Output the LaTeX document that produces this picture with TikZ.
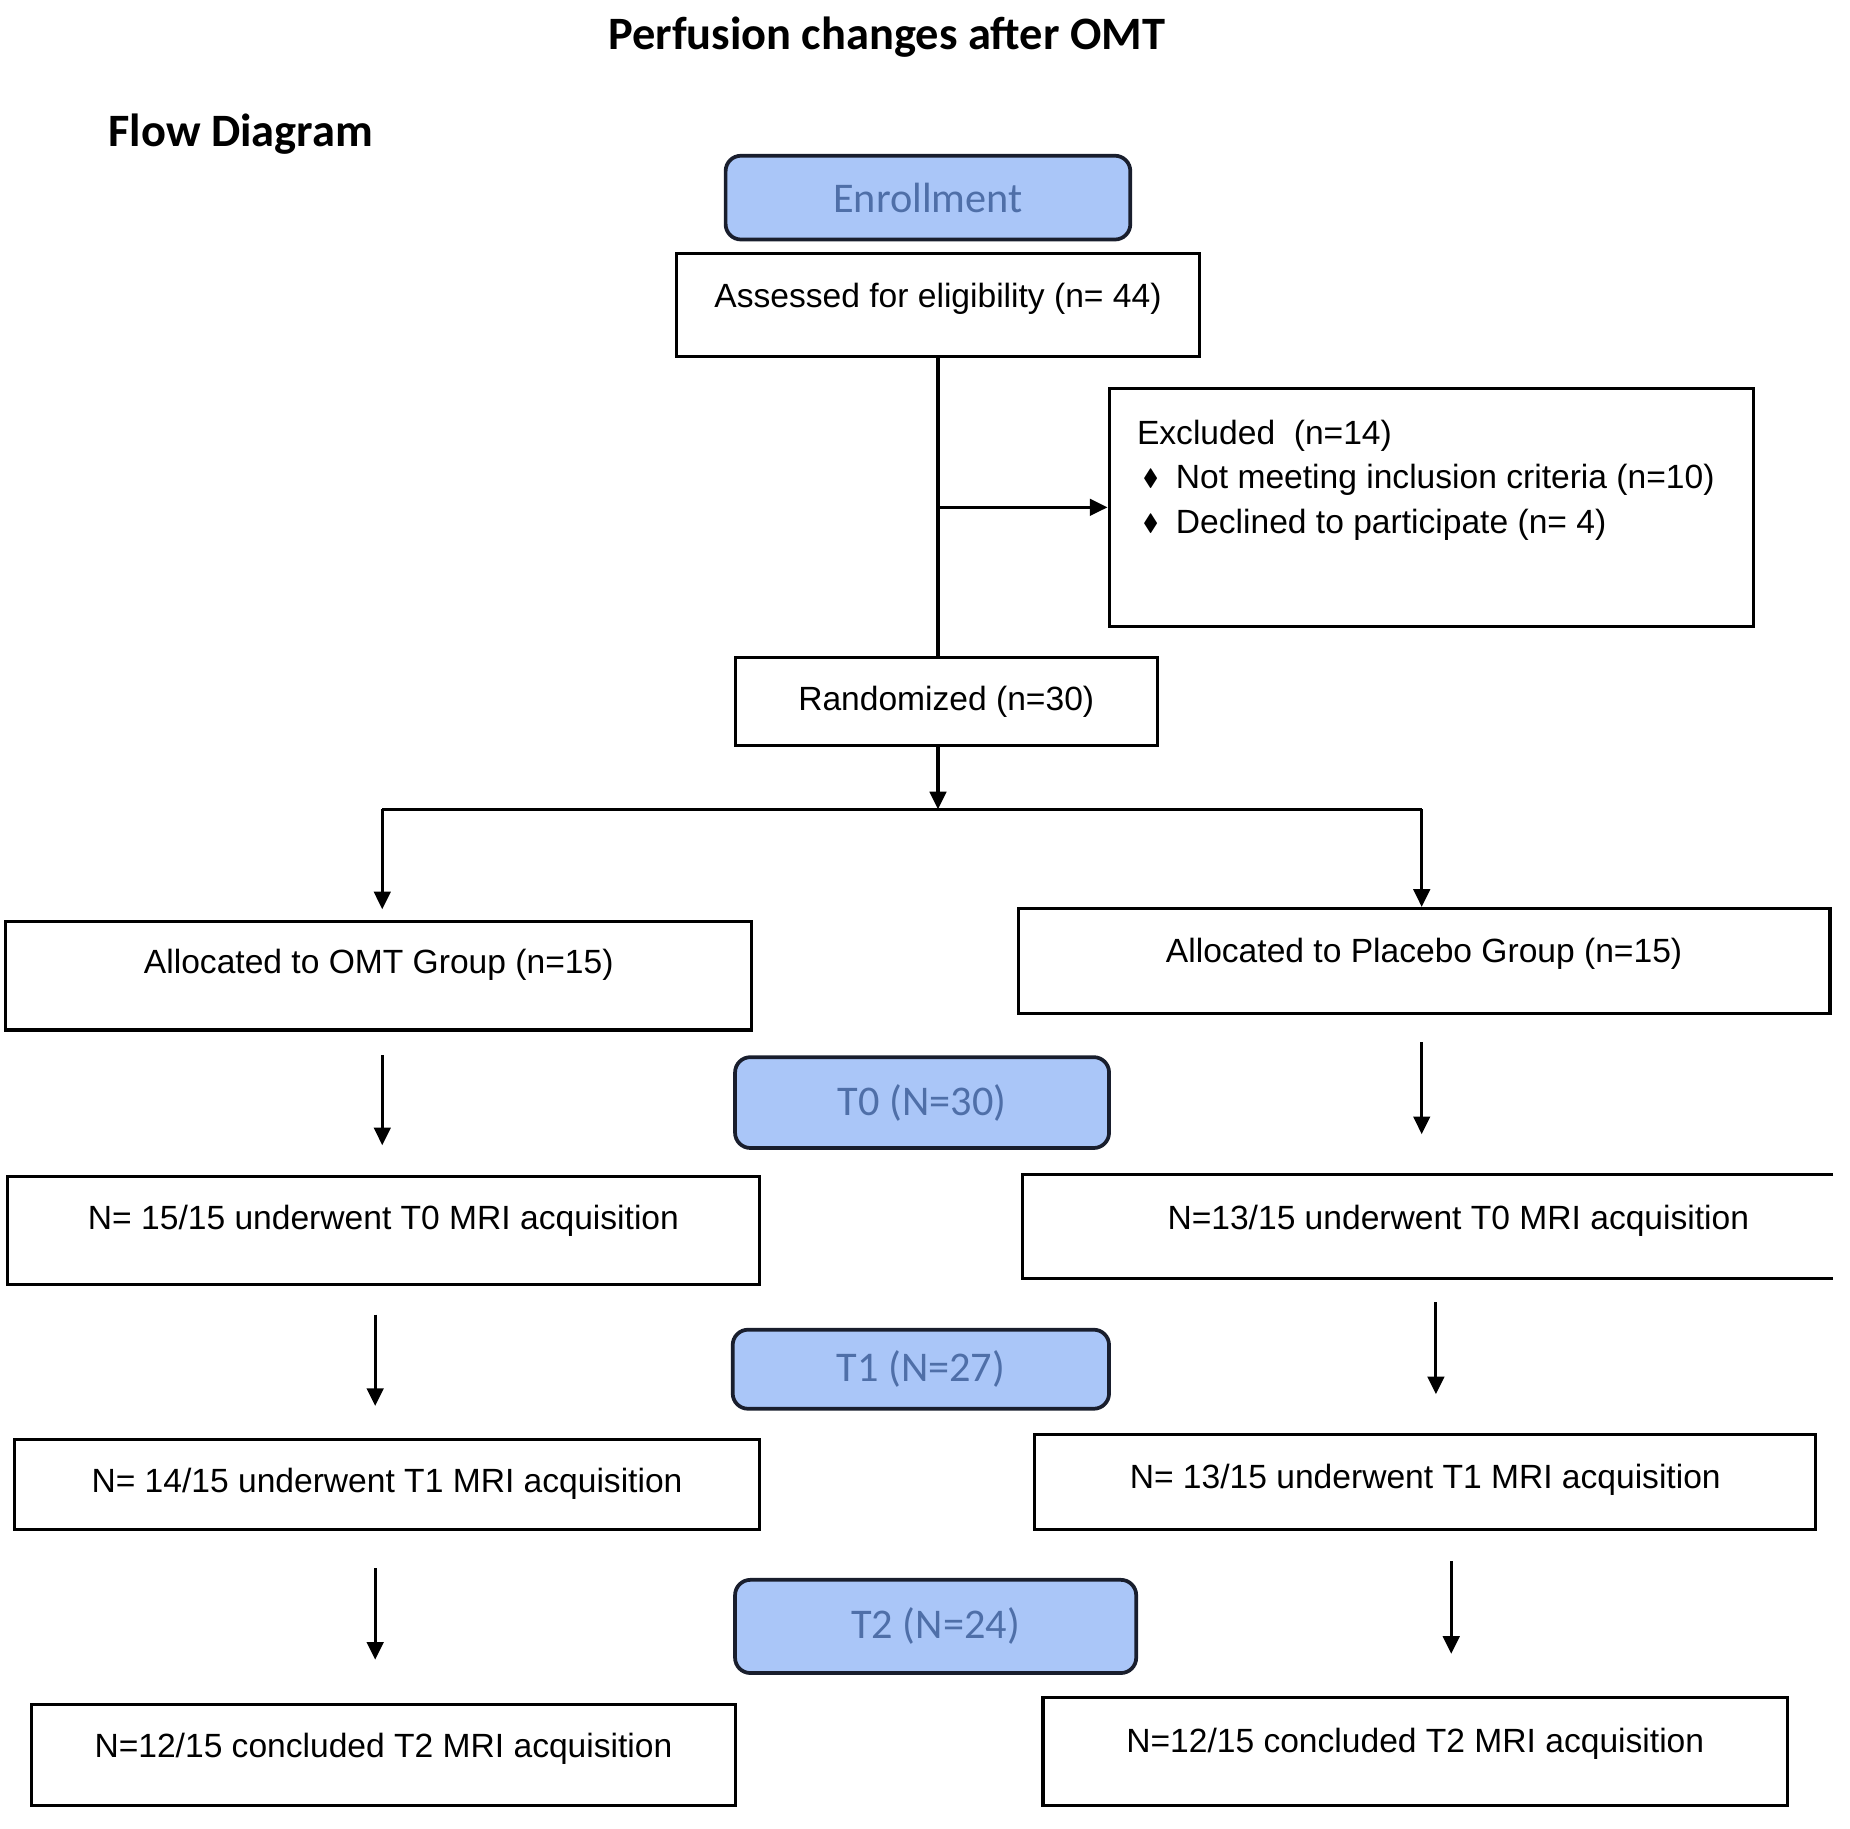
\documentclass[tikz,border=0pt]{standalone}
\usepackage{fontspec}
\setmainfont{Liberation Sans}
\newfontfamily\calibri{Carlito}
\usepackage{amssymb}
\usetikzlibrary{arrows.meta,positioning}
\definecolor{boxblue}{RGB}{170,198,248}
\definecolor{labelblue}{RGB}{79,111,168}
\definecolor{edge}{RGB}{25,30,45}
\newcommand{\bul}{\raisebox{0.2ex}{\scalebox{0.7}{$\blacklozenge$}}}
\newcommand{\exitem}[1]{\hspace*{0.05cm}\makebox[0.28cm][l]{\bul}#1}

\begin{document}
\begin{tikzpicture}[
	box/.style={draw=black, line width=0.75pt, fill=white, inner sep=0pt},
	stage/.style={draw=edge, line width=0.9pt, fill=boxblue, rounded corners=0.13cm, inner sep=0pt, text=labelblue, font=\calibri\fontsize{10.2}{12}\selectfont},
	txt/.style={font=\fontsize{8.1}{10.8}\selectfont},
	head/.style={font=\calibri\bfseries\fontsize{11.2}{13}\selectfont, anchor=base},
	conn/.style={line width=0.75pt},
	arr/.style={line width=0.75pt, -{Triangle[width=0.14cm,length=0.15cm]}}
	]
	\useasboundingbox (0,0) rectangle (15.68,-15.494);
	% titles
	\node[head] (title) at (7.515,-0.42) {Perfusion changes after OMT};
	\node[head] (flow) at (2.04,-1.245) {Flow Diagram};
	% enrollment part
	\node[stage, minimum width=3.43cm, minimum height=0.71cm] (enrol) at (7.865,-1.675) {Enrollment};
	\node[box, minimum width=4.44cm, minimum height=0.87cm, label={[txt,yshift=0.055cm]center:{Assessed for eligibility (n= 44)}}] (assess) at (7.95,-2.585) {};
	\node[box, minimum width=5.46cm, minimum height=2.02cm] (excl) at (12.13,-4.30) {};
	\node[txt, anchor=north west, align=left, inner sep=0pt] (excltext) at (9.63,-3.55) {Excluded~~(n=14)\\\exitem{Not meeting inclusion criteria (n=10)}\\\exitem{Declined to participate (n= 4)}};
	\node[box, minimum width=3.58cm, minimum height=0.75cm, label={[txt]center:{Randomized (n=30)}}] (rand) at (8.02,-5.945) {};
	% allocation
	\node[box, minimum width=6.32cm, minimum height=0.92cm, label={[txt,yshift=0.09cm]center:{Allocated to OMT Group (n=15)}}] (alloc1) at (3.21,-8.27) {};
	\node[box, minimum width=6.88cm, minimum height=0.89cm, label={[txt,yshift=0.065cm]center:{Allocated to Placebo Group (n=15)}}] (alloc2) at (12.07,-8.145) {};
	% follow up
	\node[stage, minimum width=3.17cm, minimum height=0.77cm] (T0) at (7.815,-9.345) {T0 (N=30)};
	\node[box, minimum width=6.38cm, minimum height=0.92cm, label={[txt,yshift=0.08cm]center:{N= 15/15 underwent T0 MRI acquisition}}] (t0L) at (3.25,-10.43) {};
	\node[minimum width=6.86cm, minimum height=0.87cm, inner sep=0pt, label={[txt,xshift=0.26cm,yshift=0.045cm]center:{N=13/15 underwent T0 MRI acquisition}}] (t0R) at (12.10,-10.395) {};
	\draw[conn] (t0R.north east) -- (t0R.north west) -- (t0R.south west) -- (t0R.south east);
	\node[stage, minimum width=3.19cm, minimum height=0.67cm] (T1) at (7.805,-11.605) {T1 (N=27)};
	\node[box, minimum width=6.32cm, minimum height=0.76cm, label={[txt]center:{N= 14/15 underwent T1 MRI acquisition}}] (t1L) at (3.28,-12.58) {};
	\node[box, minimum width=6.62cm, minimum height=0.80cm, label={[txt,yshift=0.02cm]center:{N= 13/15 underwent T1 MRI acquisition}}] (t1R) at (12.08,-12.56) {};
	\node[stage, minimum width=3.40cm, minimum height=0.79cm] (T2) at (7.93,-13.785) {T2 (N=24)};
	\node[box, minimum width=5.96cm, minimum height=0.85cm, label={[txt,yshift=0.055cm]center:{N=12/15 concluded T2 MRI acquisition}}] (t2L) at (3.25,-14.875) {};
	\node[box, minimum width=6.31cm, minimum height=0.91cm, label={[txt,yshift=0.065cm]center:{N=12/15 concluded T2 MRI acquisition}}] (t2R) at (11.995,-14.845) {};
	% connectors
	\draw[conn] (assess.south) -- (assess.south |- rand.north);
	\draw[arr] (assess.south |- excl.west) -- (excl.west);
	\coordinate (split) at (7.95,-6.86);
	\draw[arr] (assess.south |- rand.south) -- (split);
	\draw[conn] ([xshift=0.03cm]split -| alloc1) -- ([xshift=-0.02cm]split -| alloc2);
	\draw[arr] ([xshift=0.03cm]split -| alloc1) -- ([xshift=0.03cm,yshift=0.09cm]alloc1.north);
	\draw[arr] ([xshift=-0.02cm]split -| alloc2) -- ([xshift=-0.02cm]alloc2.north);
	\foreach \a/\b/\dx/\s/\e in {alloc1/t0L/0.03/0.2/0.25, t0L/t1L/-0.07/0.24/0.27, t1L/t2L/-0.10/0.32/0.37,
		alloc2/t0R/-0.02/0.23/0.34, t0R/t1R/0.07/0.2/0.33, t1R/t2R/0.22/0.26/0.36}
		\draw[arr, shorten <=\s cm, shorten >=\e cm] ([xshift=\dx cm]\a.south) -- ([xshift=\dx cm]\a.south |- \b.north);
\end{tikzpicture}
\end{document}
